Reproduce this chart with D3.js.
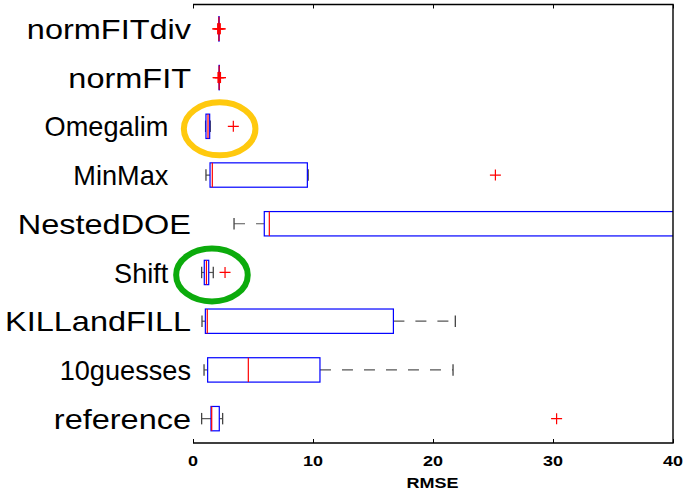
<!DOCTYPE html>
<html>
<head>
<meta charset="utf-8">
<script src="https://cdn.jsdelivr.net/npm/d3@7"></script>
<style>
  html, body { margin: 0; padding: 0; background: #fff; }
  svg { display: block; }
</style>
</head>
<body>
<svg id="chart" width="684" height="493"></svg>
<script>
// Methods, listed top to bottom
const categories = ["normFITdiv", "normFIT", "Omegalim", "MinMax", "NestedDOE", "Shift", "KILLandFILL", "10guesses", "reference"];
// Axis labels as written on the figure (some carry trailing padding)
const categoryLabels = ["normFITdiv", "normFIT", "Omegalim   ", "MinMax   ", "NestedDOE", "Shift   ", "KILLandFILL", "10guesses", "reference"];
// Box-plot statistics of RMSE per method
const whiskerLow  = [2.12, 2.14, 1.05, 1.08, 3.42, 0.72, 0.75, 0.92, 0.72];
const quartile1   = [2.15, 2.17, 1.08, 1.42, 5.94, 0.94, 1.03, 1.22, 1.50];
const medians     = [2.16, 2.18, 1.25, 1.61, 6.36, 1.12, 1.19, 4.61, 1.56];
const quartile3   = [2.18, 2.20, 1.39, 9.53, 55.0, 1.31, 16.70, 10.58, 2.19];
const whiskerHigh = [2.20, 2.22, 1.44, 9.60, 80.0, 1.69, 21.86, 21.67, 2.47];
const outliers    = [[2.06, 2.10, 2.23, 2.27], [2.09, 2.12, 2.25, 2.29], [3.36], [25.2], [], [2.67], [], [], [30.3]];
// Highlighted methods: [category, RMSE at ellipse centre]
const highlights = [["Omegalim", 2.22], ["Shift", 1.58]];
const highlightColors = ["#ffc90e", "#0cab0c"];
const xTicks = [0, 10, 20, 30, 40];
const xLabel = "RMSE";

// label typography: horizontal stretch of each category label
const labelStretch = [1.16, 1.16, 0.97, 0.97, 1.16, 0.97, 1.16, 0.97, 1.16];

const svg = d3.select("#chart");
const plotLeft = 193, plotRight = 673, plotTop = 4.5, plotBottom = 443;

const x = d3.scaleLinear().domain([0, 40]).range([plotLeft, plotRight]);
const y = d3.scaleBand().domain(categories).range([plotTop, plotBottom]).padding(0);
const bw = y.bandwidth();
const boxH = bw * 0.5;
const capH = boxH * 0.47;
const cy = c => y(c) + bw / 2;

svg.append("defs").append("clipPath").attr("id", "plotClip")
  .append("rect").attr("x", plotLeft).attr("y", plotTop)
  .attr("width", plotRight - plotLeft).attr("height", plotBottom - plotTop);

const plot = svg.append("g").attr("clip-path", "url(#plotClip)");

const stats = categories.map((c, i) => ({
  c, lo: whiskerLow[i], q1: quartile1[i], med: medians[i], q3: quartile3[i], hi: whiskerHigh[i], out: outliers[i]
}));

const rows = plot.selectAll("g.row").data(stats).join("g").attr("class", "row");

// dashed whiskers
rows.append("line")
  .attr("x1", d => x(d.lo)).attr("x2", d => x(d.q1))
  .attr("y1", d => cy(d.c)).attr("y2", d => cy(d.c))
  .attr("stroke", "#555").attr("stroke-width", 1.2).attr("stroke-dasharray", "11,11");
rows.append("line")
  .attr("x1", d => x(d.q3)).attr("x2", d => x(d.hi))
  .attr("y1", d => cy(d.c)).attr("y2", d => cy(d.c))
  .attr("stroke", "#555").attr("stroke-width", 1.2).attr("stroke-dasharray", "11,11");
// whisker caps
["lo", "hi"].forEach(k => {
  rows.append("line")
    .attr("x1", d => x(d[k])).attr("x2", d => x(d[k]))
    .attr("y1", d => cy(d.c) - capH / 2).attr("y2", d => cy(d.c) + capH / 2)
    .attr("stroke", "#444").attr("stroke-width", 1.3);
});
// boxes
rows.append("rect")
  .attr("x", d => x(d.q1)).attr("width", d => x(d.q3) - x(d.q1))
  .attr("y", d => cy(d.c) - boxH / 2).attr("height", boxH)
  .attr("fill", "#fff").attr("stroke", "#0000ff").attr("stroke-width", 1.2);
// medians
rows.append("line")
  .attr("x1", d => x(d.med)).attr("x2", d => x(d.med))
  .attr("y1", d => cy(d.c) - boxH / 2).attr("y2", d => cy(d.c) + boxH / 2)
  .attr("stroke", "#ff0000").attr("stroke-width", 1.2);
// outliers as red plus signs
const pts = stats.flatMap(d => d.out.map(v => ({ c: d.c, v })));
plot.selectAll("path.outlier").data(pts).join("path")
  .attr("class", "outlier")
  .attr("transform", d => `translate(${x(d.v)},${cy(d.c)})`)
  .attr("d", "M-5.5,0H5.5M0,-5.5V5.5")
  .attr("stroke", "#ff0000").attr("stroke-width", 1.2).attr("fill", "none");

// highlight ellipses
svg.selectAll("ellipse.hl").data(highlights).join("ellipse")
  .attr("class", "hl")
  .attr("cx", d => x(d[1])).attr("cy", d => cy(d[0]) + 2.5)
  .attr("rx", 35.8).attr("ry", 26.5)
  .attr("fill", "none")
  .attr("stroke", (d, i) => highlightColors[i]).attr("stroke-width", 6);

// frame: bottom axis, top and right edges
svg.append("path")
  .attr("d", `M${plotLeft},${plotBottom}H${plotRight}V${plotTop}H${plotLeft}`)
  .attr("fill", "none").attr("stroke", "#000").attr("stroke-width", 1.4);

// x ticks, drawn inward on the bottom and top edges
const xAxis = svg.append("g").attr("transform", `translate(0,${plotBottom})`)
  .call(d3.axisBottom(x).tickValues(xTicks).tickSize(-4).tickFormat(""));
xAxis.select(".domain").remove();
xAxis.selectAll(".tick line").attr("stroke", "#000").attr("stroke-width", 1);
const xTop = svg.append("g").attr("transform", `translate(0,${plotTop})`)
  .call(d3.axisTop(x).tickValues(xTicks).tickSize(-4).tickFormat(""));
xTop.select(".domain").remove();
xTop.selectAll(".tick line").attr("stroke", "#000").attr("stroke-width", 1);

// tick labels (slightly widened, bold)
const font = "'Liberation Sans', Arial, Helvetica, sans-serif";
svg.selectAll("g.xtl").data(xTicks).join("g")
  .attr("class", "xtl")
  .attr("transform", d => `translate(${x(d)},466)`)
  .append("text")
  .attr("transform", "scale(1.2,1)")
  .attr("text-anchor", "middle")
  .attr("font-family", font).attr("font-weight", "bold").attr("font-size", 15)
  .text(d => d);

svg.append("g").attr("transform", `translate(${(plotLeft + plotRight) / 2 - 0.5},488)`)
  .append("text")
  .attr("transform", "scale(1.2,1)")
  .attr("text-anchor", "middle")
  .attr("font-family", font).attr("font-weight", "bold").attr("font-size", 15)
  .text(xLabel);

// category labels
svg.selectAll("g.ylab").data(categories).join("g")
  .attr("class", "ylab")
  .attr("transform", d => `translate(191,${cy(d)})`)
  .append("text")
  .attr("transform", (d, i) => `scale(${labelStretch[i]},1)`)
  .attr("text-anchor", "end")
  .attr("dy", "0.36em")
  .style("white-space", "pre")
  .attr("font-family", font).attr("font-size", 28)
  .text((d, i) => categoryLabels[i]);
</script>
</body>
</html>
